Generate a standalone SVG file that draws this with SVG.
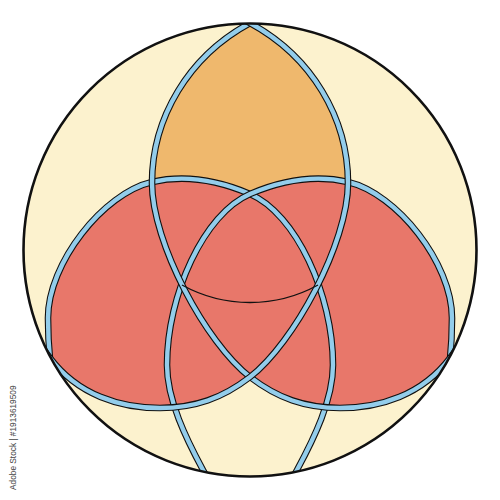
<svg xmlns="http://www.w3.org/2000/svg" xmlns:xlink="http://www.w3.org/1999/xlink" width="500" height="500" viewBox="0 0 500 500">
<style>
.ln-o{fill:none;stroke:#111;stroke-width:6.6;stroke-linecap:butt;stroke-linejoin:round}
.ln-i{fill:none;stroke:#93CDEB;stroke-width:4.4;stroke-linecap:butt;stroke-linejoin:round}
.thin{fill:none;stroke:#111;stroke-width:1.3}
.lbl{font-family:"Liberation Sans",Arial,sans-serif;font-size:8.3px;fill:#444}
</style>
<defs>
<path id="eB" d="M276,9 L250,23 C188.4,56.3 152,118 152,183 C152,243 206.4,343.5 250,377 C277.8,398.3 305,408 340,408 C380,408 422,395 450,358 L471,330"/>
<path id="eC" d="M285,492 L297,470 C313.6,439.2 333,400 333,365 C333,295 296,213.7 250,194 C217.8,180.2 186.1,174.1 152,182 C103.3,193.4 48,263 48,318 C48,345 50,370 56,398"/>
<path id="fB" d="M276,9 L250,23 C188.4,56.3 152,118 152,183 C152,243 206.4,343.5 250,377 C277.8,398.3 305,408 340,408 C380,408 422,395 450,358 L471,330 L500,330 L500,0 L276,0 Z"/>
<path id="fC" d="M285,492 L297,470 C313.6,439.2 333,400 333,365 C333,295 296,213.7 250,194 C217.8,180.2 186.1,174.1 152,182 C103.3,193.4 48,263 48,318 C48,345 50,370 56,398 L20,400 L0,500 L285,500 Z"/>
<clipPath id="cBig"><circle cx="250" cy="250" r="226.5"/></clipPath>
<clipPath id="cA"><use xlink:href="#fB" transform="matrix(-1 0 0 1 500 0)"/></clipPath>
<clipPath id="cB"><use xlink:href="#fB"/></clipPath>
<clipPath id="cAB"><use xlink:href="#fB"/><use xlink:href="#fB" transform="matrix(-1 0 0 1 500 0)"/></clipPath>
</defs>
<g id="sphere">
<circle cx="250" cy="250" r="226.5" fill="#FCF2CE"/>
</g>
<g clip-path="url(#cBig)">
<g id="top-lens" clip-path="url(#cA)"><g clip-path="url(#cB)"><rect x="0" y="0" width="500" height="500" fill="#EFB86D"/></g></g>
<g id="red-circles" clip-path="url(#cAB)">
<use xlink:href="#fC" fill="#E8776A"/>
<use xlink:href="#fC" fill="#E8776A" transform="matrix(-1 0 0 1 500 0)"/>
</g>
<g id="connectors">
<g id="ring-C"><use xlink:href="#eC" class="ln-o"/><use xlink:href="#eC" class="ln-i"/></g>
<g id="ring-D"><use xlink:href="#eC" class="ln-o" transform="matrix(-1 0 0 1 500 0)"/><use xlink:href="#eC" class="ln-i" transform="matrix(-1 0 0 1 500 0)"/></g>
<g id="ring-B"><use xlink:href="#eB" class="ln-o"/><use xlink:href="#eB" class="ln-i"/></g>
<g id="ring-A"><use xlink:href="#eB" class="ln-o" transform="matrix(-1 0 0 1 500 0)"/><use xlink:href="#eB" class="ln-i" transform="matrix(-1 0 0 1 500 0)"/></g>
<path class="thin" d="M182,285 A141 141 0 0 0 318,285"/>
</g>
</g>
<circle cx="250" cy="250" r="226.5" fill="none" stroke="#111" stroke-width="2.6"/>
<text class="lbl" transform="translate(16,490) rotate(-90)">Adobe Stock | #1913619509</text>
</svg>
